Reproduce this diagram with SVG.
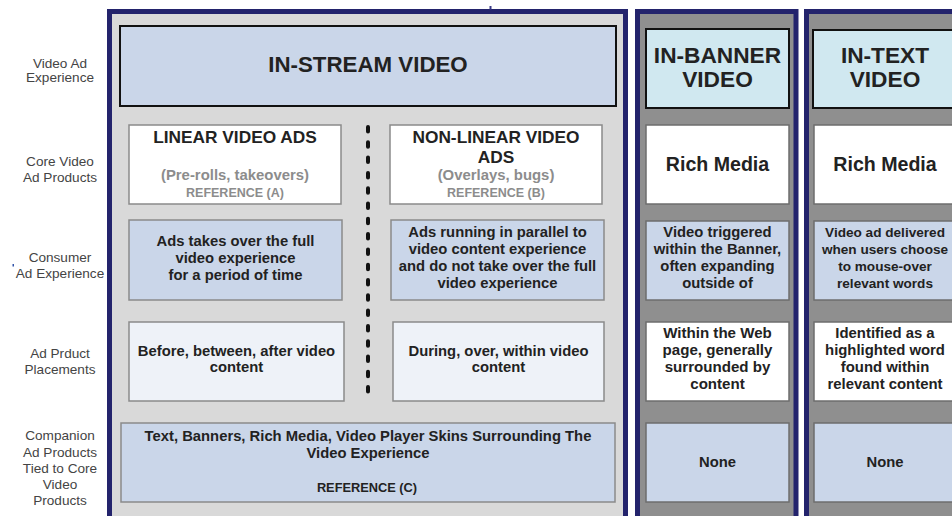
<svg xmlns="http://www.w3.org/2000/svg" width="952" height="516" viewBox="0 0 952 516">
  <style>
    text { font-family: "Liberation Sans", Arial, sans-serif; text-anchor: middle; }
    .lbl { font-size: 13.6px; fill: #444; }
    .b { font-weight: bold; fill: #222; }
    .t { font-size: 14.8px; }
    .panel { stroke: #23236c; stroke-width: 5; }
    .hdr { stroke: #111; stroke-width: 2; }
    .box { stroke: #8a8a8a; stroke-width: 1.5; }
    .box2 { stroke: #6e6e6e; stroke-width: 1.5; }
    .blue { fill: #cad6e9; }
    .white { fill: #ffffff; }
    .pale { fill: #eef2f8; }
    .cyan { fill: #d0e8f0; }
    .ref { font-weight: bold; fill: #8c8c8c; }
  </style>

  <rect width="952" height="516" fill="#ffffff"/>

  <!-- row labels -->
  <g id="row-labels">
    <text class="lbl" x="60" y="68">Video Ad</text>
    <text class="lbl" x="60" y="82">Experience</text>
    <text class="lbl" x="60" y="166">Core Video</text>
    <text class="lbl" x="60" y="182">Ad Products</text>
    <text class="lbl" x="60" y="262">Consumer</text>
    <text class="lbl" x="60" y="278">Ad Experience</text>
    <text class="lbl" x="60" y="358">Ad Prduct</text>
    <text class="lbl" x="60" y="374">Placements</text>
    <text class="lbl" x="60" y="440">Companion</text>
    <text class="lbl" x="60" y="457">Ad Products</text>
    <text class="lbl" x="60" y="473">Tied to Core</text>
    <text class="lbl" x="60" y="489">Video</text>
    <text class="lbl" x="60" y="505">Products</text>
    <rect x="12.5" y="264" width="1.5" height="2.5" fill="#3355aa"/>
  </g>

  <!-- column panels -->
  <g id="panel-instream">
    <rect class="panel" x="109.5" y="11.5" width="516" height="520" fill="#d9d9d9"/>
    <rect x="489.5" y="6" width="2" height="3.5" fill="#3a3a88"/>
  </g>
  <g id="panel-inbanner">
    <rect class="panel" x="637.5" y="11.5" width="158.5" height="520" fill="#8f8f8f"/>
  </g>
  <g id="panel-intext">
    <rect class="panel" x="806.5" y="11.5" width="160" height="520" fill="#8f8f8f"/>
  </g>

  <!-- connectors: divider between linear and non-linear products -->
  <g id="connectors">
    <line x1="368" y1="127" x2="368" y2="392" stroke="#111" stroke-width="4" stroke-linecap="round" stroke-dasharray="4.5 10.8"/>
  </g>

  <!-- in-stream column -->
  <g id="instream-header">
    <rect class="hdr blue" x="120" y="26" width="496" height="80"/>
    <text class="b" x="368" y="72" font-size="22.3">IN-STREAM VIDEO</text>
  </g>
  <g id="linear-core">
    <rect class="box white" x="129" y="125" width="212" height="79"/>
    <text class="b" x="235" y="143" font-size="17.3">LINEAR VIDEO ADS</text>
    <text class="ref" x="235" y="180" font-size="14.9">(Pre-rolls, takeovers)</text>
    <text class="ref" x="235" y="197" font-size="12.5">REFERENCE (A)</text>
  </g>
  <g id="nonlinear-core">
    <rect class="box white" x="390" y="125" width="212" height="79"/>
    <text class="b" x="496" y="143" font-size="17.3">NON-LINEAR VIDEO</text>
    <text class="b" x="496" y="163" font-size="17.3">ADS</text>
    <text class="ref" x="496" y="180" font-size="14.9">(Overlays, bugs)</text>
    <text class="ref" x="496" y="197" font-size="12.5">REFERENCE (B)</text>
  </g>
  <g id="linear-experience">
    <rect class="box blue" x="129" y="220" width="213" height="80"/>
    <text class="b t" x="235.5" y="246">Ads takes over the full</text>
    <text class="b t" x="235.5" y="263">video experience</text>
    <text class="b t" x="235.5" y="280">for a period of time</text>
  </g>
  <g id="nonlinear-experience">
    <rect class="box blue" x="391" y="220" width="213" height="80"/>
    <text class="b t" x="497.5" y="237">Ads running in parallel to</text>
    <text class="b t" x="497.5" y="254">video content experience</text>
    <text class="b t" x="497.5" y="271">and do not take over the full</text>
    <text class="b t" x="497.5" y="288">video experience</text>
  </g>
  <g id="linear-placement">
    <rect class="box pale" x="129" y="322" width="215" height="79"/>
    <text class="b t" x="236.5" y="356">Before, between, after video</text>
    <text class="b t" x="236.5" y="372">content</text>
  </g>
  <g id="nonlinear-placement">
    <rect class="box pale" x="393" y="322" width="211" height="79"/>
    <text class="b t" x="498.5" y="356">During, over, within video</text>
    <text class="b t" x="498.5" y="372">content</text>
  </g>
  <g id="instream-companion">
    <rect class="box blue" x="121" y="423" width="494" height="79"/>
    <text class="b t" x="368" y="441">Text, Banners, Rich Media, Video Player Skins Surrounding The</text>
    <text class="b t" x="368" y="458">Video Experience</text>
    <text class="b" x="367" y="492" font-size="12.8">REFERENCE (C)</text>
  </g>

  <!-- in-banner column -->
  <g id="inbanner-header">
    <rect class="hdr cyan" x="646" y="29" width="143" height="79"/>
    <text class="b" x="717.5" y="63" font-size="22.7">IN-BANNER</text>
    <text class="b" x="717.5" y="87" font-size="22.7">VIDEO</text>
  </g>
  <g id="inbanner-core">
    <rect class="box2 white" x="646" y="125" width="143" height="79"/>
    <text class="b" x="717.5" y="171" font-size="19.6">Rich Media</text>
  </g>
  <g id="inbanner-experience">
    <rect class="box2 blue" x="646" y="221" width="143" height="79"/>
    <text class="b t" x="717.5" y="237">Video triggered</text>
    <text class="b t" x="717.5" y="254">within the Banner,</text>
    <text class="b t" x="717.5" y="271">often expanding</text>
    <text class="b t" x="717.5" y="288">outside of</text>
  </g>
  <g id="inbanner-placement">
    <rect class="box2 white" x="646" y="322" width="143" height="79"/>
    <text class="b" x="717.5" y="338" font-size="15.1">Within the Web</text>
    <text class="b" x="717.5" y="355" font-size="15.1">page, generally</text>
    <text class="b" x="717.5" y="372" font-size="15.1">surrounded by</text>
    <text class="b" x="717.5" y="389" font-size="15.1">content</text>
  </g>
  <g id="inbanner-companion">
    <rect class="box2 blue" x="646" y="423" width="143" height="79"/>
    <text class="b t" x="717.5" y="467">None</text>
  </g>

  <!-- in-text column -->
  <g id="intext-header">
    <rect class="hdr cyan" x="813" y="30" width="145" height="78"/>
    <text class="b" x="885" y="63" font-size="22.7">IN-TEXT</text>
    <text class="b" x="885" y="87" font-size="22.7">VIDEO</text>
  </g>
  <g id="intext-core">
    <rect class="box2 white" x="814" y="125" width="145" height="79"/>
    <text class="b" x="885" y="171" font-size="19.6">Rich Media</text>
  </g>
  <g id="intext-experience">
    <rect class="box2 blue" x="814" y="221" width="145" height="79"/>
    <text class="b" x="885" y="237" font-size="13.6">Video ad delivered</text>
    <text class="b" x="885" y="254" font-size="13.6">when users choose</text>
    <text class="b" x="885" y="271" font-size="13.6">to mouse-over</text>
    <text class="b" x="885" y="288" font-size="13.6">relevant words</text>
  </g>
  <g id="intext-placement">
    <rect class="box2 white" x="814" y="322" width="145" height="79"/>
    <text class="b" x="885" y="338" font-size="14.9">Identified as a</text>
    <text class="b" x="885" y="355" font-size="14.9">highlighted word</text>
    <text class="b" x="885" y="372" font-size="14.9">found within</text>
    <text class="b" x="885" y="389" font-size="14.9">relevant content</text>
  </g>
  <g id="intext-companion">
    <rect class="box2 blue" x="814" y="423" width="145" height="79"/>
    <text class="b t" x="885" y="467">None</text>
  </g>
</svg>
